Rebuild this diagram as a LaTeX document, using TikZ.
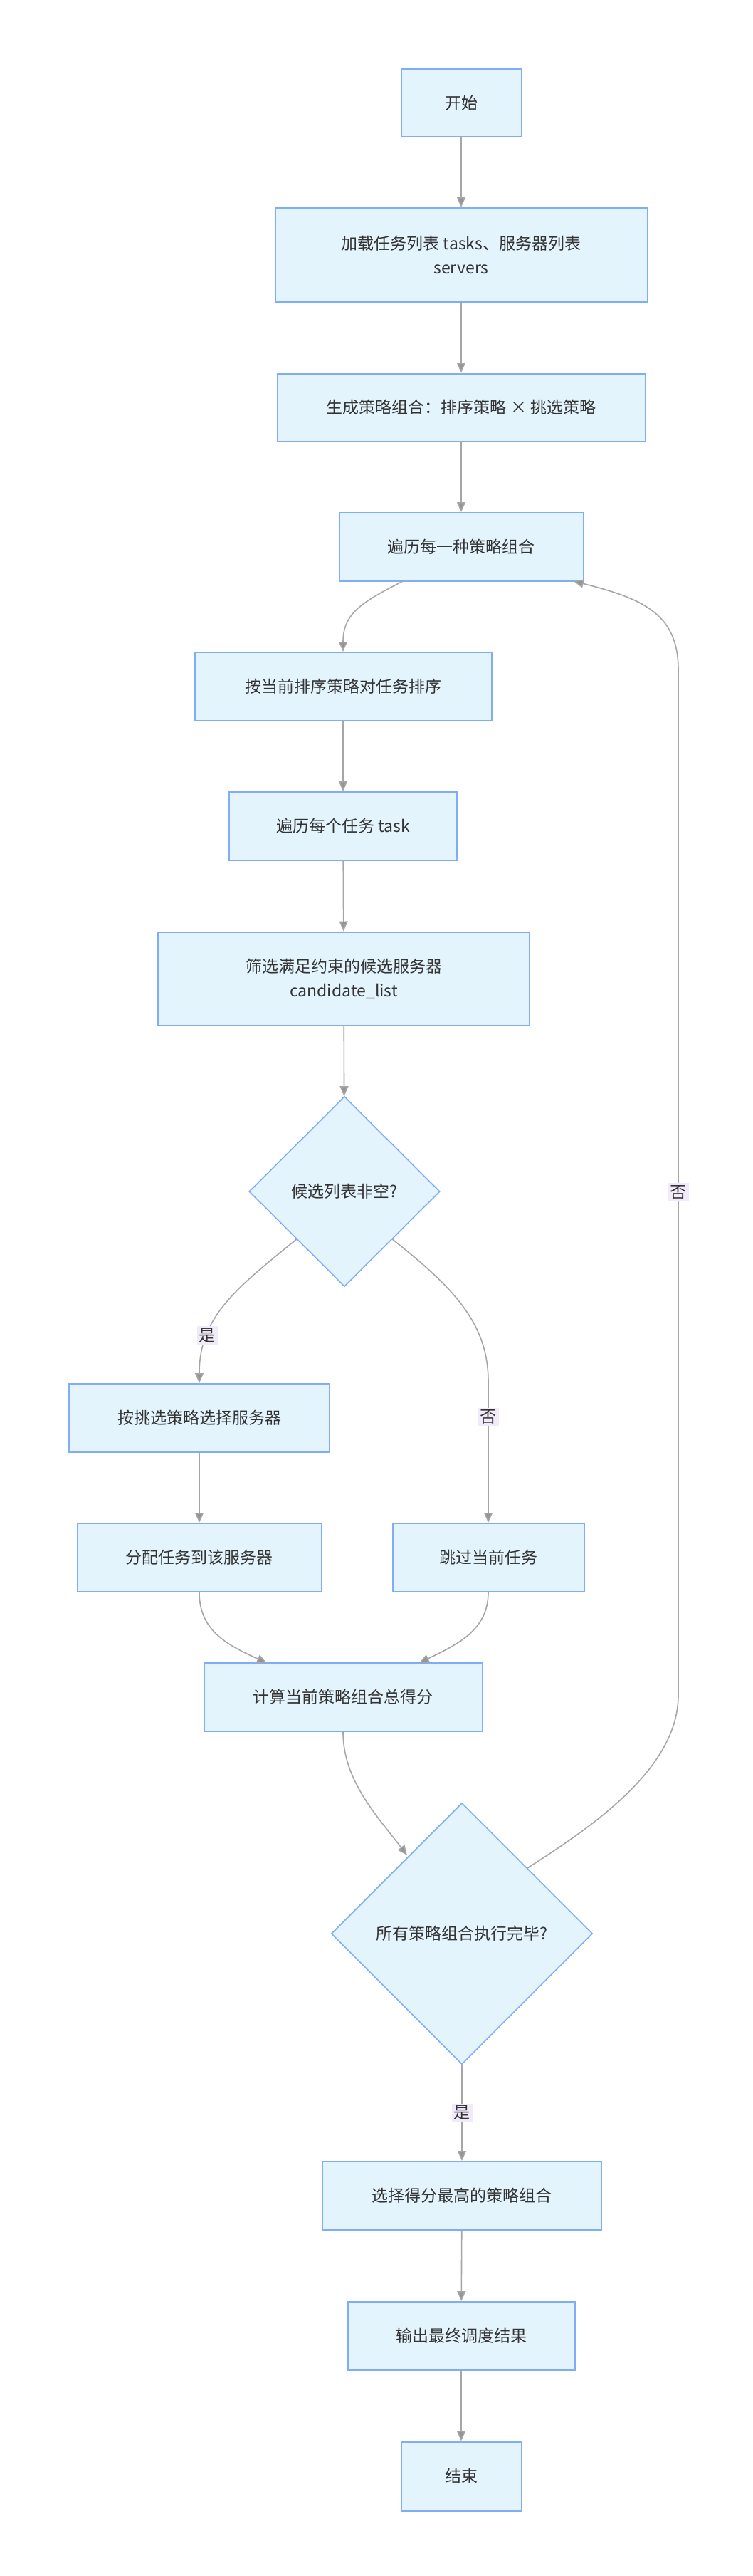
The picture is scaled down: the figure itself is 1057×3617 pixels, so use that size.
\documentclass[tikz,border=0pt]{standalone}
\usepackage{fontspec}
\setmainfont{Noto Sans CJK SC}
\usetikzlibrary{shapes.geometric,arrows.meta}
\definecolor{boxfill}{HTML}{E3F4FD}
\definecolor{boxdraw}{HTML}{7FAEF7}
\definecolor{edge}{HTML}{A6A6A6}
\definecolor{lblbg}{HTML}{F1EAFA}
\definecolor{txt}{HTML}{333333}
\begin{document}
\begin{tikzpicture}[x=0.5pt,y=-0.5pt,
  font=\fontsize{11.5}{17}\selectfont, text=txt,
  box/.style={draw=boxdraw, fill=boxfill, line width=1pt, rectangle, inner sep=0pt, align=center},
  dia/.style={draw=boxdraw, fill=boxfill, line width=0.8pt, diamond, inner sep=0pt, align=center},
  ar/.style={draw=edge, line width=0.8pt, -{Triangle[length=7pt,width=6pt,fill=edge!90!black]}},
  lbl/.style={fill=lblbg, inner sep=1.5pt, font=\fontsize{11.5}{13}\selectfont}]
\useasboundingbox (0,0) rectangle (1057,3617);
\node[box, minimum width=84.5pt, minimum height=47.5pt] (start) at (648,145) {开始};
\node[box, minimum width=261.5pt, minimum height=66pt] (load) at (648,358) {加载任务列表 tasks、服务器列表\\servers};
\node[box, minimum width=258.5pt, minimum height=47.5pt] (gen) at (648,572) {生成策略组合：排序策略 × 挑选策略};
\node[box, minimum width=171.5pt, minimum height=48pt] (iter) at (648,768) {遍历每一种策略组合};
\node[box, minimum width=208.5pt, minimum height=48pt] (sort) at (482,964) {按当前排序策略对任务排序};
\node[box, minimum width=160pt, minimum height=48pt] (task) at (482,1160) {遍历每个任务 task};
\node[box, minimum width=261pt, minimum height=65.5pt] (filt) at (483,1374) {筛选满足约束的候选服务器\\candidate\_list};
\node[dia, minimum width=134pt, minimum height=133.5pt] (d1) at (484,1673) {候选列表非空?};
\node[box, minimum width=183pt, minimum height=48pt] (pick) at (280,1991) {按挑选策略选择服务器};
\node[box, minimum width=171.5pt, minimum height=48pt] (assign) at (280,2187) {分配任务到该服务器};
\node[box, minimum width=134.5pt, minimum height=48pt] (skip) at (686,2187) {跳过当前任务};
\node[box, minimum width=195.5pt, minimum height=48pt] (calc) at (482,2383) {计算当前策略组合总得分};
\node[dia, minimum width=183.5pt, minimum height=183.5pt] (d2) at (649,2715) {所有策略组合执行完毕?};
\node[box, minimum width=196pt, minimum height=48pt] (best) at (649,3083) {选择得分最高的策略组合};
\node[box, minimum width=159.5pt, minimum height=48pt] (out) at (648,3280) {输出最终调度结果};
\node[box, minimum width=84.5pt, minimum height=48.5pt] (end) at (648,3477) {结束};

\coordinate (iterb) at (566,816);
\coordinate (iterr) at (806,816);
\coordinate (c1) at (375,2335);
\coordinate (c2) at (589,2335);
\coordinate (d2in) at (572,2605);

\draw[ar] (start) -- (load);
\draw[ar] (load) -- (gen);
\draw[ar] (gen) -- (iter);
\draw[ar] (iterb) .. controls (510,845) and (482,860) .. (sort.north);
\draw[ar] (sort) -- (task);
\draw[ar] (task) -- (filt);
\draw[ar] (filt) -- (d1);
\draw[ar] (d1.south west) .. controls (330,1810) and (280,1850) .. node[lbl, pos=0.72] {是} (pick.north);
\draw[ar] (d1.south east) .. controls (640,1810) and (686,1860) .. (686,1940) -- node[lbl, pos=0.25] {否} (skip.north);
\draw[ar] (pick) -- (assign);
\draw[ar] (assign.south) .. controls (280,2290) and (320,2310) .. (c1);
\draw[ar] (skip.south) .. controls (686,2290) and (640,2310) .. (c2);
\draw[ar] (calc.south) .. controls (482,2500) and (530,2550) .. (d2in);
\draw[ar] (d2.north east) .. controls (840,2560) and (953,2480) .. (953,2380)
   -- node[lbl, pos=0.49] {否} (953,940) .. controls (953,860) and (900,840) .. (iterr);
\draw[ar] (d2.south) -- node[lbl, pos=0.5] {是} (best.north);
\draw[ar] (best) -- (out);
\draw[ar] (out) -- (end);
\end{tikzpicture}
\end{document}
